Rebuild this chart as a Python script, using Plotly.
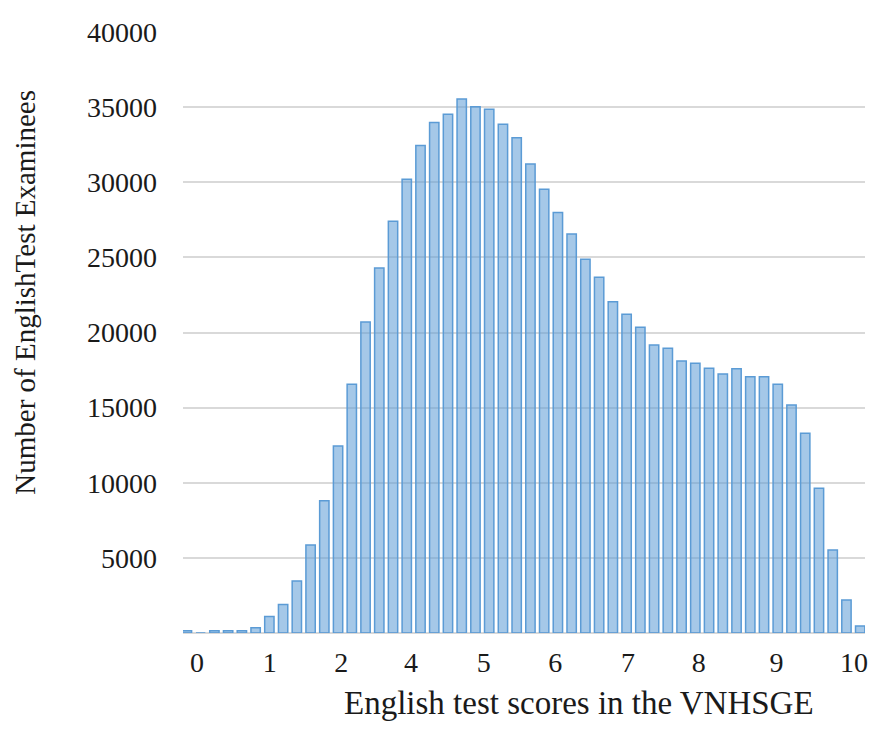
import plotly.graph_objects as go

# ── data ──────────────────────────────────────────────────────────────
scores = [0.0, 0.2, 0.4, 0.6, 0.8, 1.0, 1.2, 1.4, 1.6, 1.8,
          2.0, 2.2, 2.4, 2.6, 2.8, 3.0, 3.2, 3.4, 3.6, 3.8,
          4.0, 4.2, 4.4, 4.6, 4.8, 5.0, 5.2, 5.4, 5.6, 5.8,
          6.0, 6.2, 6.4, 6.6, 6.8, 7.0, 7.2, 7.4, 7.6, 7.8,
          8.0, 8.2, 8.4, 8.6, 8.8, 9.0, 9.2, 9.4, 9.6, 9.8]
examinees = [150, 0, 150, 150, 150, 350, 1090, 1900, 3460, 5860,
             8810, 12450, 16550, 20700, 24300, 27400, 30200, 32440, 33970, 34520,
             35540, 35030, 34860, 33860, 32970, 31220, 29530, 27980, 26560, 24870,
             23680, 22050, 21210, 20350, 19170, 18950, 18100, 17950, 17620, 17240,
             17590, 17060, 17060, 16550, 15180, 13290, 9630, 5520, 2200, 470]

y_ticks = [5000, 10000, 15000, 20000, 25000, 30000, 35000, 40000]
y_tick_text = ["5000", "10000", "15000", "20000", "25000", "30000", "35000", "40000"]
x_tick_text = ["0", "1", "2", "4", "5", "6", "7", "8", "9", "10"]

# the printed score labels sit slightly off the bar grid in the original
x_tick_pos = [0.146, 1.204, 2.247, 3.262, 4.32, 5.363, 6.421, 7.45, 8.581, 9.71]

_FONT = "'Liberation Serif', 'Times New Roman', serif"
_GRID = "#d9d9d9"
_TEXT = "#1a1a1a"

fig = go.Figure(go.Bar(
    x=scores,
    y=examinees,
    marker=dict(color="rgba(91,155,213,0.55)",
                line=dict(color="#5b9bd5", width=1.5)),
))

# page body adds an 8px margin; keep the figure inside the window
fig.update_layout(
    width=860, height=715,
    margin=dict(l=175, r=0, t=24, b=90),
    paper_bgcolor="#ffffff",
    plot_bgcolor="#ffffff",
    bargap=0.32,
    showlegend=False,
    font=dict(family=_FONT, color=_TEXT, size=28),
    xaxis=dict(
        range=[-0.057, 9.87],
        tickvals=x_tick_pos,
        ticktext=x_tick_text,
        showgrid=False,
        zeroline=False,
        showline=False,
        ticks="",
        ticklabelstandoff=10,
        ticklabeloverflow="allow",
        tickfont=dict(family=_FONT, size=28, color=_TEXT),
    ),
    yaxis=dict(
        range=[0, 40000],
        tickvals=y_ticks,
        ticktext=y_tick_text,
        showgrid=True,
        gridcolor=_GRID,
        gridwidth=2,
        zeroline=True,
        zerolinecolor=_GRID,
        zerolinewidth=2,
        ticks="",
        ticklabelstandoff=25,
        tickfont=dict(family=_FONT, size=28, color=_TEXT),
    ),
    annotations=[
        dict(text="Number of EnglishTest Examinees",
             x=-0.231, y=0.567, xref="paper", yref="paper",
             xanchor="center", yanchor="middle",
             textangle=-90, showarrow=False,
             font=dict(family=_FONT, size=29, color=_TEXT)),
        dict(text="English test scores in the VNHSGE",
             x=0.58, y=-0.1165, xref="paper", yref="paper",
             xanchor="center", yanchor="middle",
             showarrow=False,
             font=dict(family=_FONT, size=33, color=_TEXT)),
    ],
)

fig.write_html("out.html")
